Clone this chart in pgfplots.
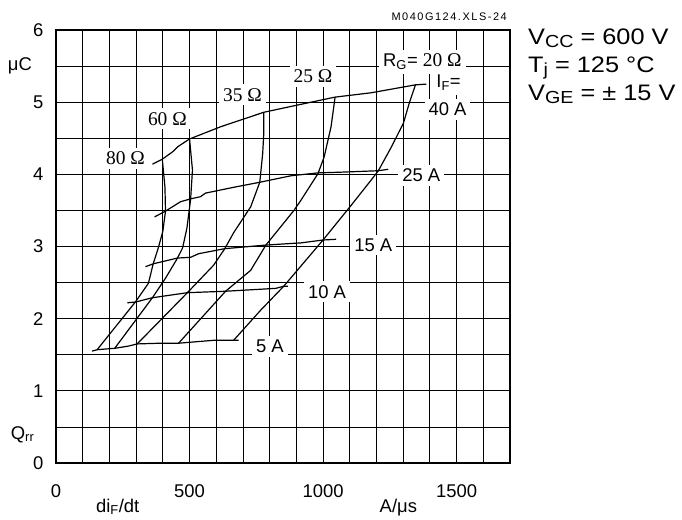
\documentclass[border=0pt]{standalone}
\usepackage{fontspec}
\setmainfont{Liberation Sans}
\newfontfamily\tmsfont{Liberation Serif}
\newfontfamily\widefont{Liberation Sans}[FakeStretch=1.13]
\usepackage{pgfplots}
\pgfplotsset{compat=1.18}

\tikzset{
  crv/.style={black, line width=1.2bp},
  lab/.style={fill=white, inner sep=4bp, font=\fontsize{18.5}{20}\selectfont},
  olab/.style={fill=white, inner sep=4bp, font=\tmsfont\fontsize{19.5}{21}\selectfont},
  cond/.style={anchor=base west, inner sep=0pt, font=\widefont\fontsize{22.5}{26}\selectfont},
}
\newcommand\csub[1]{\raisebox{-3.5bp}{\fontsize{17.5}{18}\selectfont #1}}

\begin{document}
\begin{tikzpicture}
\begin{axis}[
  name=ax,
  scale only axis, width=454bp, height=433bp,
  xmin=0, xmax=1700, ymin=0, ymax=6,
  xtick={0,500,1000,1500}, ytick={0,1,2,3,4,5,6},
  minor xtick={100,200,...,1600}, minor ytick={0.5,1.5,...,5.5},
  grid=both,
  major grid style={black, line width=0.8bp},
  minor grid style={black, line width=0.8bp},
  axis line style={line width=1.5bp},
  tick style={draw=none},
  /pgf/number format/assume math mode=true,
  /pgf/number format/set thousands separator={},
  ticklabel style={font=\fontsize{18.5}{20}\selectfont},
  xticklabel style={yshift=-18bp},
  yticklabel style={xshift=-9bp},
  clip=false,
]
% I_F curves
\addplot[crv] coordinates {(361,4.14) (398,4.21) (436,4.31) (455,4.38) (500,4.49) (617,4.66) (778,4.86) (917,4.97) (1045,5.07) (1180,5.13) (1346,5.24) (1387,5.25)};
\addplot[crv] coordinates {(369,3.41) (410,3.49) (466,3.62) (504,3.66) (541,3.69) (560,3.74) (665,3.82) (763,3.89) (880,3.98) (981,4.02) (1068,4.03) (1207,4.05) (1244,4.07)};
\addplot[crv] coordinates {(335,2.72) (364,2.76) (455,2.84) (504,2.85) (534,2.90) (632,2.97) (786,3.02) (917,3.05) (1000,3.09) (1049,3.10)};
\addplot[crv] coordinates {(267,2.22) (297,2.23) (361,2.29) (492,2.36) (635,2.38) (823,2.42) (853,2.45) (868,2.45)};
\addplot[crv] coordinates {(135,1.55) (154,1.57) (222,1.59) (271,1.62) (304,1.65) (391,1.66) (459,1.66) (590,1.70) (665,1.70) (684,1.70)};
% R_G curves
\addplot[crv] coordinates {(398,4.21) (408,3.82) (410,3.49) (400,3.21) (383,2.98) (364,2.76) (346,2.49) (297,2.23) (154,1.57)};
\addplot[crv] coordinates {(500,4.49) (511,4.06) (504,3.65) (490,3.25) (474,2.98) (455,2.84) (410,2.56) (361,2.29) (220,1.59)};
\addplot[crv] coordinates {(778,4.86) (778,4.57) (774,4.29) (763,3.89) (729,3.55) (665,3.19) (632,2.97) (590,2.74) (492,2.36) (304,1.65)};
\addplot[crv] coordinates {(1045,5.07) (1030,4.66) (1004,4.24) (981,4.01) (917,3.64) (891,3.50) (786,3.02) (729,2.67) (635,2.38) (459,1.66)};
\addplot[crv] coordinates {(1346,5.24) (1323,4.99) (1301,4.71) (1256,4.38) (1207,4.05) (1180,3.92) (1105,3.57) (1000,3.09) (853,2.45) (767,2.12) (665,1.70)};

% curve labels
\node[olab] at (axis cs:260,4.22) {80 Ω};
\node[olab] at (axis cs:417,4.77) {60 Ω};
\node[olab] at (axis cs:698,5.10) {35 Ω};
\node[olab] at (axis cs:962,5.36) {25 Ω};
\node[lab, anchor=base] at (axis cs:1372,5.49) {R\textsubscript{G}= {\tmsfont\fontsize{19.5}{21}\selectfont 20 Ω}};
\node[lab, anchor=base] at (axis cs:1470,5.20) {I\textsubscript{F}=};
\node[lab] at (axis cs:1466,4.90) {40 A};
\node[lab] at (axis cs:1368,3.99) {25 A};
\node[lab] at (axis cs:1188,3.02) {15 A};
\node[lab] at (axis cs:1015,2.37) {10 A};
\node[lab] at (axis cs:801,1.62) {5 A};

% axis titles
\node[anchor=base, font=\fontsize{18.5}{20}\selectfont] at (axis cs:-135,5.445) {μC};
\node[anchor=base, font=\fontsize{18.5}{20}\selectfont] at (axis cs:-125,0.33) {Q\textsubscript{rr}};
\node[anchor=base, font=\fontsize{18.5}{20}\selectfont] at (axis cs:231,0) [yshift=-49bp] {di\textsubscript{F}/dt};
\node[anchor=base, font=\fontsize{18.5}{20}\selectfont] at (axis cs:1282,0) [yshift=-49bp] {A/μs};

% file tag and conditions
\node[anchor=base east, inner sep=0pt, font=\fontsize{11}{12}\selectfont\addfontfeatures{LetterSpace=14}] at (axis cs:1700,6) [xshift=-3bp, yshift=10bp] {M040G124.XLS-24};
\node[cond] at (axis cs:1700,6) [xshift=18bp, yshift=-14bp] {V\csub{CC} = 600 V};
\node[cond] at (axis cs:1700,6) [xshift=18bp, yshift=-42bp] {T\csub{j} = 125 °C};
\node[cond] at (axis cs:1700,6) [xshift=18bp, yshift=-70bp] {V\csub{GE} = ± 15 V};
\end{axis}
\pgfresetboundingbox
\path[use as bounding box] (ax.south west) ++(-56bp,-57bp) rectangle ++(682bp,520bp);
\end{tikzpicture}
\end{document}
